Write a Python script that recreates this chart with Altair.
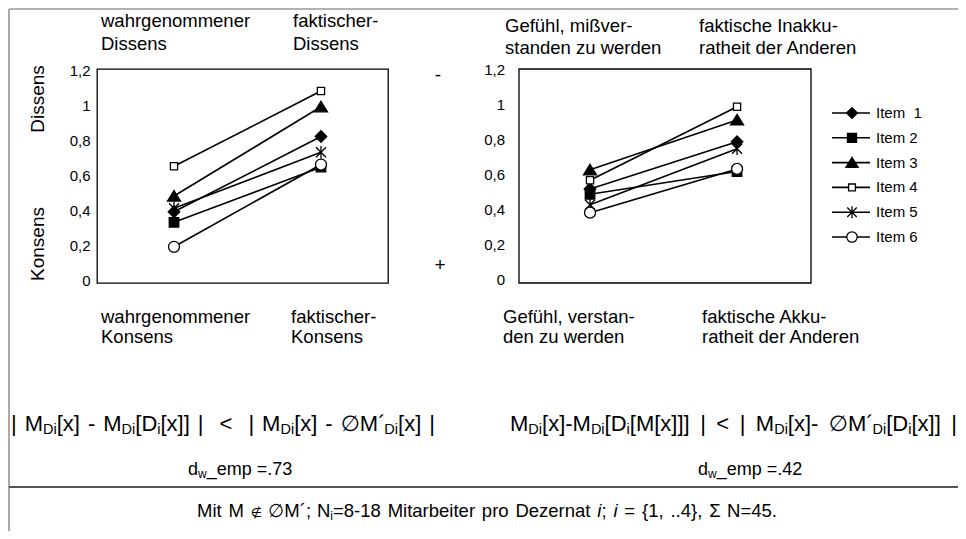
import altair as alt
import pandas as pd

# ---------------- data ----------------
items = ["Item\u00a0 1", "Item 2", "Item 3", "Item 4", "Item 5", "Item 6"]
# left panel: wahrgenommener / faktischer Dissens
dissens_wahrg = [0.39, 0.33, 0.48, 0.65, 0.41, 0.19]
dissens_fakt = [0.82, 0.645, 0.99, 1.08, 0.73, 0.66]
# right panel: Gefühl missverstanden / faktische Inakkuratheit
gefuehl_miss = [0.52, 0.49, 0.63, 0.57, 0.43, 0.385]
inakkuratheit = [0.79, 0.62, 0.915, 0.99, 0.75, 0.635]
y_ticks = [0, 0.2, 0.4, 0.6, 0.8, 1.0, 1.2]
cat_pos = [0.5, 1.5]


def long_df(a, b):
    rows = []
    for it, v1, v2 in zip(items, a, b):
        rows.append({"item": it, "pos": cat_pos[0], "value": v1})
        rows.append({"item": it, "pos": cat_pos[1], "value": v2})
    return pd.DataFrame(rows)


df_left = long_df(dissens_wahrg, dissens_fakt)
df_right = long_df(gefuehl_miss, inakkuratheit)
df_items = pd.DataFrame({"item": items})
df_ticks = pd.DataFrame({"v": y_ticks, "lab": [f"{v:g}".replace(".", ",") for v in y_ticks]})
one = pd.DataFrame({"k": [0]})

# ---------------- layout helpers (page coordinates -> plot coordinates) ----------------
OX, OY = 97, 69
PW, PH = 291, 214


def X(px):
    return px - OX


def Y(py):
    return py - OY


FONT = "Liberation Sans, Arial, DejaVu Sans, sans-serif"

ys = alt.Scale(domain=[-0.017, 1.206], nice=False, zero=False)
xs_left = alt.Scale(domain=[-0.024, 1.956], nice=False, zero=False)
xs_right = alt.Scale(domain=[0.017, 2.003], range=[X(519), X(811)], nice=False, zero=False)

STAR = "M-1,-1L1,1M-1,1L1,-1M0,-1.25L0,1.25"
DIAMOND = "M-1.15,0L0,-1.15L1.15,0L0,1.15Z"
SQUARE = "M-0.95,-0.95L0.95,-0.95L0.95,0.95L-0.95,0.95Z"
TRI = "M0,-1.1L1.3,1.0L-1.3,1.0Z"
OSQUARE = "M-0.72,-0.72L0.72,-0.72L0.72,0.72L-0.72,0.72Z"
CIRCLE = "M-1.1,0A1.1,1.1 0 1,0 1.1,0A1.1,1.1 0 1,0 -1.1,0Z"

shape_scale = alt.Scale(domain=items, range=[DIAMOND, SQUARE, TRI, OSQUARE, STAR, CIRCLE])
fill_scale = alt.Scale(domain=items, range=["black", "black", "black", "white", "black", "white"])

left_axis = alt.Axis(values=y_ticks, format="~g", labelExpr="replace(datum.label, '.', ',')",
                     ticks=False, tickSize=0, domain=False, grid=False, labelPadding=7,
                     labelFontSize=15, labelFont=FONT, labelColor="black", title=None)


def lines(df, xs, axis=None):
    return alt.Chart(df).mark_line(color="black", strokeWidth=1.6).encode(
        x=alt.X("pos:Q", scale=xs, axis=None),
        y=alt.Y("value:Q", scale=ys, axis=axis),
        detail="item:N",
    )


def points(df, xs):
    return alt.Chart(df).mark_point(filled=True, stroke="black", strokeWidth=1.3, size=100, opacity=1).encode(
        x=alt.X("pos:Q", scale=xs, axis=None),
        y=alt.Y("value:Q", scale=ys, axis=None),
        shape=alt.Shape("item:N", scale=shape_scale, legend=None),
        fill=alt.Fill("item:N", scale=fill_scale, legend=None),
    )


def text_layer(t, x, y, size, align="left", baseline="alphabetic", style="normal", angle=None, lh=None):
    kw = dict(align=align, baseline=baseline, font=FONT, fontSize=size, color="black", fontStyle=style)
    if angle is not None:
        kw["angle"] = angle
    if lh is not None:
        kw["lineHeight"] = lh
        kw["lineBreak"] = "\n"
    return alt.Chart(pd.DataFrame({"t": [t]})).mark_text(**kw).encode(
        x=alt.value(X(x)), y=alt.value(Y(y)), text="t:N")


# Arial / Liberation Sans advance widths (1/1000 em)
W = {" ": 278, "|": 260, "[": 278, "]": 278, "-": 333, "<": 584, "=": 584, ".": 278, ",": 278,
     ";": 278, "{": 334, "}": 334, "\u00b4": 333, "_": 556, "M": 833, "D": 722, "N": 722, "i": 222,
     "x": 500, "d": 556, "w": 722, "e": 556, "m": 833, "p": 556, "t": 278, "a": 556, "r": 333,
     "b": 556, "o": 556, "z": 500, "n": 556, "s": 500, "\u03a3": 600, "\u2205": 820, "\u2209": 820}
for c in "0123456789":
    W[c] = 556


def rich(segs, x0, base, size, sub, dy, x1=None, small=13):
    """Place rich-text segments token by token; extra room goes into the spaces.
    kinds: n normal, s subscript, it italic, sm small symbol"""
    toks = []
    for t, kind in segs:
        s = sub if kind == "s" else (small if kind == "sm" else size)
        parts = t.split(" ")
        for i, p in enumerate(parts):
            if i > 0:
                toks.append((None, kind, size, W[" "] * size / 1000))
            if p:
                toks.append((p, kind, s, sum(W.get(c, 556) for c in p) * s / 1000))
    natural = sum(tk[3] for tk in toks)
    nsp = sum(1 for tk in toks if tk[0] is None)
    extra = 0.0
    if x1 is not None and nsp:
        extra = ((x1 - x0) - natural) / nsp
    out = []
    x = x0
    for t, kind, s, w in toks:
        if t is None:
            x += w + extra
            continue
        out.append(text_layer(t, x, base + (dy if kind == "s" else 0), s,
                              style="italic" if kind == "it" else "normal"))
        x += w
    return out


layers = []
layers.append(lines(df_left, xs_left, left_axis))
layers.append(points(df_left, xs_left))
layers.append(lines(df_right, xs_right))
layers.append(points(df_right, xs_right))

# right frame
layers.append(alt.Chart(one).mark_rect(fillOpacity=0, stroke="black", strokeWidth=1.3).encode(
    x=alt.value(X(519)), x2=alt.value(X(811)), y=alt.value(0), y2=alt.value(PH)))
# right tick labels
layers.append(alt.Chart(df_ticks).mark_text(align="right", baseline="middle", font=FONT, fontSize=15,
                                            color="black").encode(
    x=alt.value(X(505)), y=alt.Y("v:Q", scale=ys, axis=None), text="lab:N"))

# legend
leg_y = alt.Y("item:N", scale=alt.Scale(type="point", domain=items, range=[Y(113), Y(237)], padding=0),
              axis=None)
layers.append(alt.Chart(df_items).mark_rule(color="black", strokeWidth=1.6).encode(
    x=alt.value(X(832)), x2=alt.value(X(870)), y=leg_y))
layers.append(alt.Chart(df_items).mark_point(filled=True, stroke="black", strokeWidth=1.3, size=90,
                                             opacity=1).encode(
    x=alt.value(X(852)), y=leg_y,
    shape=alt.Shape("item:N", scale=shape_scale, legend=None),
    fill=alt.Fill("item:N", scale=fill_scale, legend=None)))
layers.append(alt.Chart(df_items).mark_text(align="left", baseline="middle", font=FONT, fontSize=15,
                                            color="black").encode(
    x=alt.value(X(876)), y=leg_y, text="item:N"))

# header / footer labels
layers.append(text_layer("wahrgenommener\nDissens", 101, 27, 18.5, lh=23))
layers.append(text_layer("faktischer-\nDissens", 293, 27, 18.5, lh=23))
layers.append(text_layer("Gefühl, mißver-\nstanden zu werden", 505, 32, 18.5, lh=22))
layers.append(text_layer("faktische Inakku-\nratheit der Anderen", 699, 32, 18.5, lh=22))
layers.append(text_layer("wahrgenommener\nKonsens", 101, 323, 18.5, lh=20))
layers.append(text_layer("faktischer-\nKonsens", 291, 323, 18.5, lh=20))
layers.append(text_layer("Gefühl, verstan-\nden zu werden", 503, 323, 18.5, lh=20))
layers.append(text_layer("faktische Akku-\nratheit der Anderen", 702, 323, 18.5, lh=20))
layers.append(text_layer("Dissens", 38, 99, 19, align="center", baseline="middle", angle=270))
layers.append(text_layer("Konsens", 38, 244, 19, align="center", baseline="middle", angle=270))
layers.append(text_layer("-", 438, 75, 19, align="center", baseline="middle"))
layers.append(text_layer("+", 440, 265, 19, align="center", baseline="middle"))

# formulas
left_formula = [("| M", "n"), ("Di", "s"), ("[x] - M", "n"), ("Di", "s"), ("[D", "n"), ("i", "s"),
                ("[x]] |  <  | M", "n"), ("Di", "s"), ("[x] - \u2205M\u00b4", "n"), ("Di", "s"),
                ("[x] |", "n")]
right_formula = [("M", "n"), ("Di", "s"), ("[x]-M", "n"), ("Di", "s"), ("[D", "n"), ("i", "s"),
                 ("[M[x]]] | < | M", "n"), ("Di", "s"), ("[x]- \u2205M\u00b4", "n"), ("Di", "s"),
                 ("[D", "n"), ("i", "s"), ("[x]] |", "n")]
layers += rich(left_formula, 11, 431, 22, 14.5, 2.5, x1=435)
layers += rich(right_formula, 510, 431, 22, 14.5, 2.5, x1=957)
layers += rich([("d", "n"), ("w", "s"), ("_emp =.73", "n")], 188, 475, 18, 12, 3)
layers += rich([("d", "n"), ("w", "s"), ("_emp =.42", "n")], 698, 475, 18, 12, 3)
note = [("Mit M ", "n"), ("\u2209", "sm"), (" \u2205M\u00b4; N", "n"), ("i", "s"),
        ("=8-18 Mitarbeiter pro Dezernat ", "n"),
        ("i", "it"), (";", "n"), (" ", "n"), ("i", "it"), (" = {1, ..4}, \u03a3 N=45.", "n")]
layers += rich(note, 197, 517, 18.5, 12, 3, x1=777)

# border lines
layers.append(alt.Chart(one).mark_rule(color="#aaaaaa", strokeWidth=2).encode(
    x=alt.value(X(9)), y=alt.value(Y(9)), y2=alt.value(Y(539))))
layers.append(alt.Chart(one).mark_rule(color="#999999", strokeWidth=1.5).encode(
    x=alt.value(X(9)), x2=alt.value(X(966)), y=alt.value(Y(9))))
layers.append(alt.Chart(one).mark_rule(color="#555555", strokeWidth=2.2).encode(
    x=alt.value(X(9)), x2=alt.value(X(966)), y=alt.value(Y(487))))

chart = alt.layer(*layers).resolve_scale(x="independent", y="independent").properties(
    width=PW, height=PH,
    padding={"left": OX - 8, "top": OY - 8, "right": 950 - (OX - 8) - PW, "bottom": 523 - (OY - 8) - PH},
    autosize=alt.AutoSizeParams(type="none"),
    background="white",
).configure_view(stroke="black", strokeWidth=1.3)

chart.save("out.html", embed_options={"renderer": "svg", "actions": False})
